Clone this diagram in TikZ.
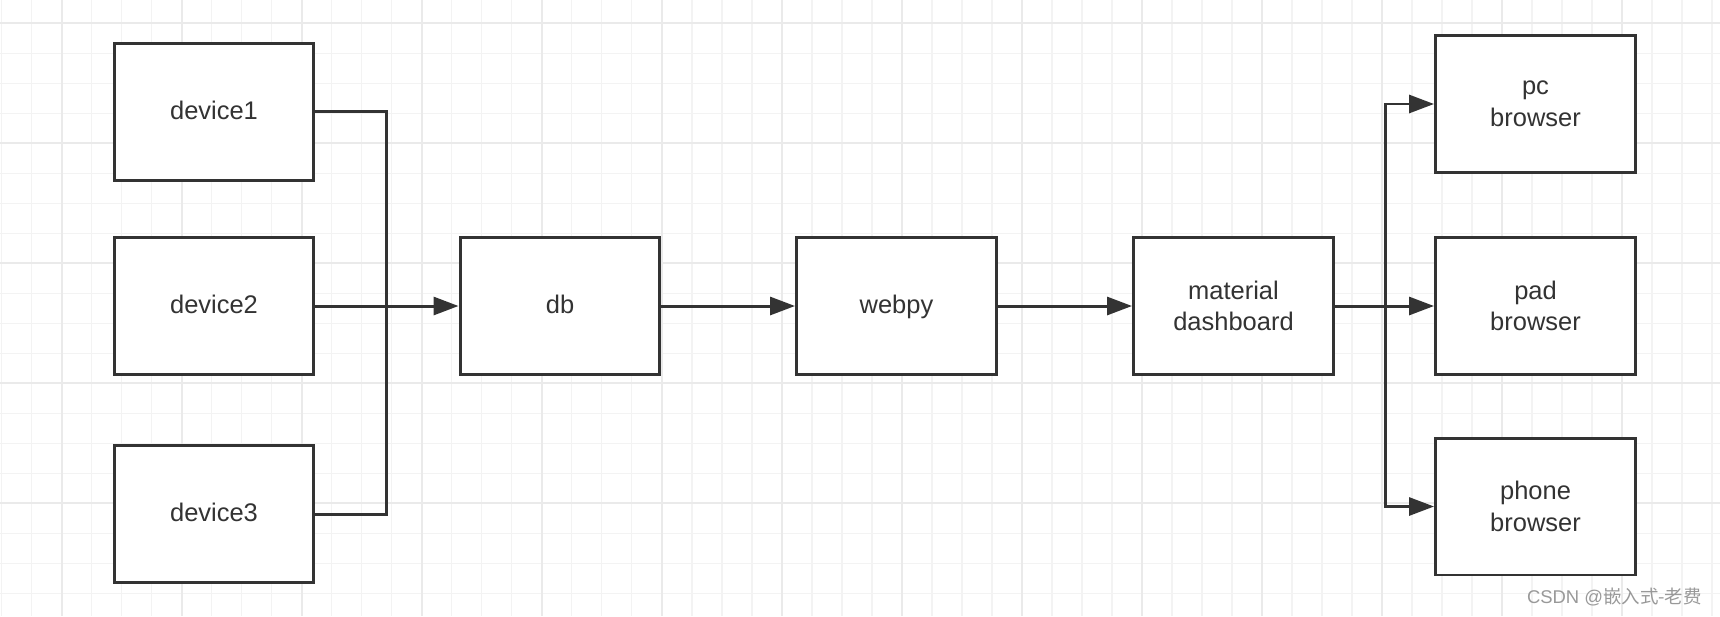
\documentclass[tikz,border=0pt]{standalone}
\usepackage{fontspec}
\setmainfont{Liberation Sans}
\newfontfamily\cjkfont{Noto Sans CJK SC}
\usepackage{tikz}
\usetikzlibrary{arrows.meta}
\definecolor{inkgray}{RGB}{51,51,51}
\definecolor{gridminor}{RGB}{243,243,243}
\definecolor{gridmajor}{RGB}{234,234,234}

\begin{document}
\begin{tikzpicture}[
            x = 0.02cm, y = -0.02cm,
            box/.style = {draw = inkgray, line width = 1.7pt, fill = white,
                          minimum width = 4cm, minimum height = 2.74cm,
                          align = center, text = inkgray,
                          font = \fontsize{14.5}{18}\selectfont},
            oneline/.style = {box, text height = 0.9em, text depth = 0pt},
            link/.style = {draw = inkgray, line width = 1.7pt},
            flow/.style = {link, -{Triangle[length = 0.5cm, width = 0.36cm]}}
            ]
            \useasboundingbox (0,0) rectangle (1720,616);
            \fill[white] (0,0) rectangle (1720,616);
            % background grid
            \foreach \gx in {1.7,31.7,...,1720}
                \draw[gridminor, line width = 0.9pt] (\gx,0) -- (\gx,616);
            \foreach \gy in {23.3,53.3,...,616}
                \draw[gridminor, line width = 0.9pt] (0,\gy) -- (1720,\gy);
            \foreach \gx in {61.7,181.7,...,1720}
                \draw[gridmajor, line width = 1.2pt] (\gx,0) -- (\gx,616);
            \foreach \gy in {23.3,143.3,...,616}
                \draw[gridmajor, line width = 1.2pt] (0,\gy) -- (1720,\gy);

            % boxes
            \node[oneline] (dev1) at (214,111.7) {device1};
            \node[oneline] (dev2) at (214,306) {device2};
            \node[oneline] (dev3) at (214,514) {device3};
            \node[oneline] (db) at (560,306) {db};
            \node[oneline] (webpy) at (896.5,306) {webpy};
            \node[box] (dash) at (1233.5,306) {material\\dashboard};
            \node[box] (pc) at (1535.5,104) {pc\\browser};
            \node[box] (pad) at (1535.5,306) {pad\\browser};
            \node[box] (phone) at (1535.5,506.5) {phone\\browser};

            \coordinate (busin) at (386.7,306);
            \coordinate (busout) at (1385.5,306);

            % connectors
            \draw[link] (dev1.east) -| (busin);
            \draw[link] (dev3.east) -| (busin);
            \draw[flow] (dev2) -- (db);
            \draw[flow] (db) -- (webpy);
            \draw[flow] (webpy) -- (dash);
            \draw[flow] (dash) -- (pad);
            \draw[flow] (busout) |- (pc.west);
            \draw[flow] (busout) |- (phone.west);

            \node[anchor = east, text = black!40, font = \fontsize{10.5}{12}\selectfont]
                (mark) at (1708,597) {CSDN @{\cjkfont 嵌入式-老费}};
        \end{tikzpicture}
\end{document}
